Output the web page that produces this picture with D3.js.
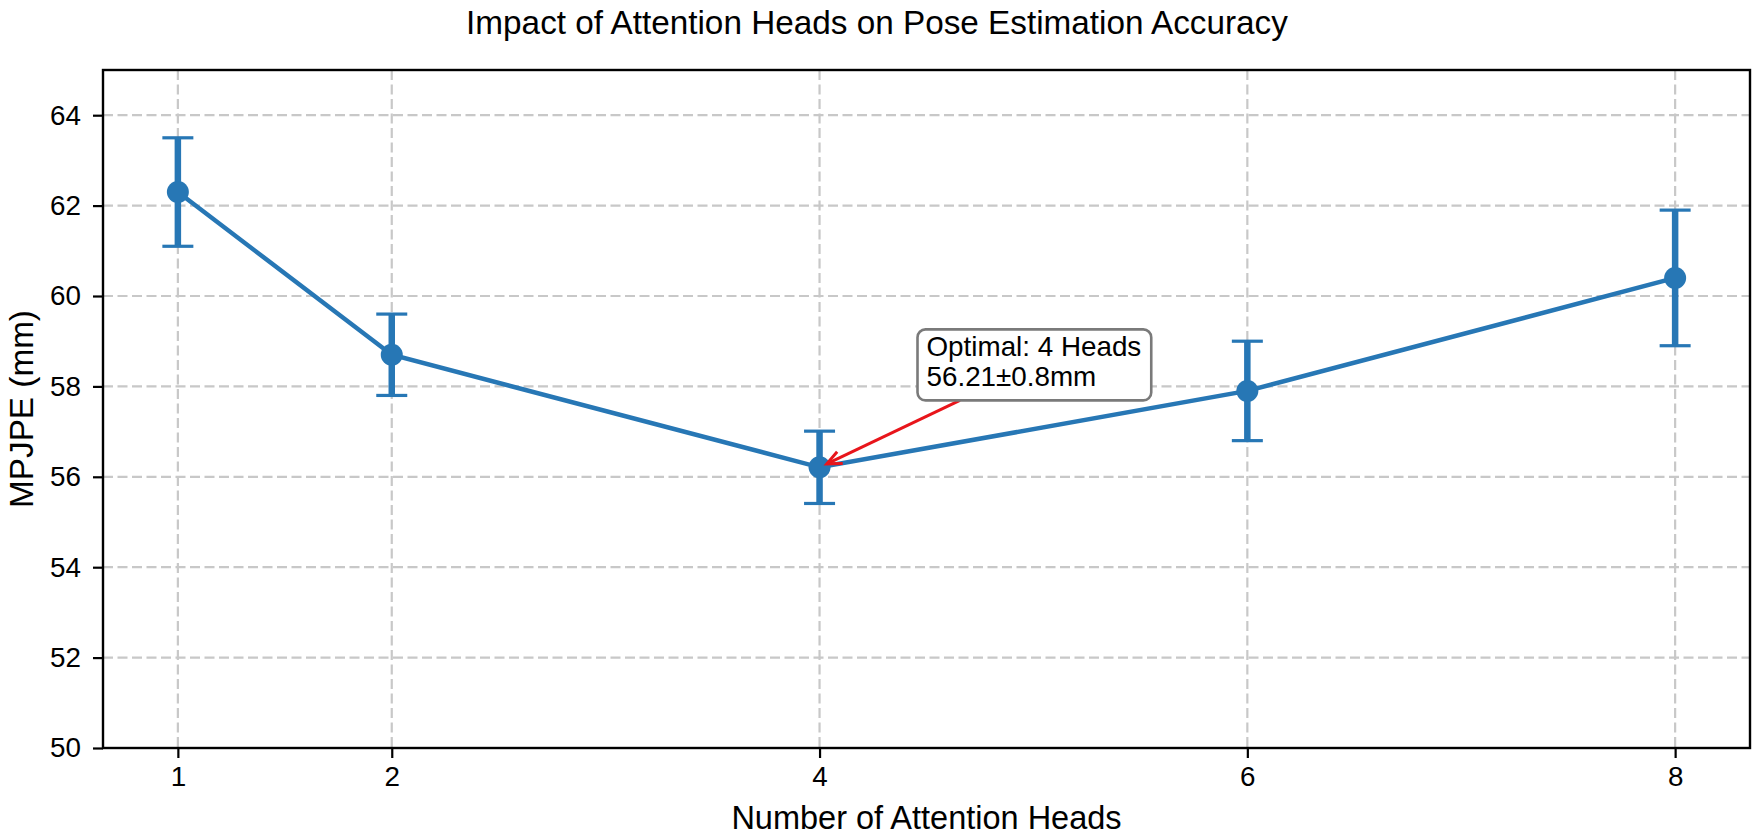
<!DOCTYPE html>
<html>
<head>
<meta charset="utf-8">
<script src="https://cdn.jsdelivr.net/npm/d3@7"></script>
<style>
  body { margin: 0; background: #fff; }
  text { font-family: "Liberation Sans", Arial, sans-serif; fill: #000; }
</style>
</head>
<body>
<svg width="1755" height="835"></svg>
<script>
var heads = [1, 2, 4, 6, 8];
var mpjpe = [62.3, 58.7, 56.21, 57.9, 60.4];
var stdDev = [1.2, 0.9, 0.8, 1.1, 1.5];
var yTicks = [50, 52, 54, 56, 58, 60, 62, 64];
var annotLines = ["Optimal: 4 Heads", "56.21\u00b10.8mm"];
var annotAt = [4.5, 58.0];

var data = heads.map(function(h, i) { return {x: h, y: mpjpe[i], e: stdDev[i]}; });

var svg = d3.select("svg"),
    margin = {top: 70, right: 5, bottom: 87, left: 103},
    width = +svg.attr("width") - margin.left - margin.right,
    height = +svg.attr("height") - margin.top - margin.bottom,
    g = svg.append("g").attr("transform", "translate(" + margin.left + "," + margin.top + ")");

var blue = "#2777b5";

var x = d3.scaleLinear().domain([0.65, 8.35]).range([0, width]);
var y = d3.scaleLinear().domain([50, 65]).range([height, 0]);

// grid
g.append("g").selectAll("line").data(heads).enter().append("line")
    .attr("x1", function(d) { return x(d); }).attr("x2", function(d) { return x(d); })
    .attr("y1", 0).attr("y2", height);
g.append("g").selectAll("line").data(yTicks).enter().append("line")
    .attr("x1", 0).attr("x2", width)
    .attr("y1", function(d) { return y(d); }).attr("y2", function(d) { return y(d); });
g.selectAll("g line")
    .attr("stroke", "#c8c8c8")
    .attr("stroke-width", 2.2)
    .attr("stroke-dasharray", "10,4.5");

// axes
var xAxis = g.append("g")
    .attr("transform", "translate(0," + height + ")")
    .call(d3.axisBottom(x).tickValues(heads).tickSize(10).tickPadding(8).tickFormat(d3.format("d")));
var yAxis = g.append("g")
    .call(d3.axisLeft(y).tickValues(yTicks).tickSize(10).tickPadding(12).tickFormat(d3.format("d")));
[xAxis, yAxis].forEach(function(a) {
  a.select(".domain").remove();
  a.selectAll(".tick line").attr("stroke", "#000").attr("stroke-width", 2.2);
  a.selectAll(".tick text").attr("font-size", "27.8px").attr("font-family", "Liberation Sans, Arial, sans-serif");
});

g.append("rect")
    .attr("width", width).attr("height", height)
    .attr("fill", "none").attr("stroke", "#000").attr("stroke-width", 2.4);

// line
var line = d3.line()
    .x(function(d) { return x(d.x); })
    .y(function(d) { return y(d.y); });

g.append("path")
    .datum(data)
    .attr("fill", "none")
    .attr("stroke", blue)
    .attr("stroke-width", 4.5)
    .attr("d", line);

// error bars
var eb = g.append("g").selectAll("g").data(data).enter().append("g");
eb.append("line")
    .attr("x1", function(d) { return x(d.x); }).attr("x2", function(d) { return x(d.x); })
    .attr("y1", function(d) { return y(d.y - d.e); }).attr("y2", function(d) { return y(d.y + d.e); })
    .attr("stroke", blue).attr("stroke-width", 6.5);
[-1, 1].forEach(function(s) {
  eb.append("line")
      .attr("x1", function(d) { return x(d.x) - 15.5; }).attr("x2", function(d) { return x(d.x) + 15.5; })
      .attr("y1", function(d) { return y(d.y + s * d.e); }).attr("y2", function(d) { return y(d.y + s * d.e); })
      .attr("stroke", blue).attr("stroke-width", 3.2);
});

g.append("g").selectAll("circle").data(data).enter().append("circle")
    .attr("cx", function(d) { return x(d.x); })
    .attr("cy", function(d) { return y(d.y); })
    .attr("r", 11)
    .attr("fill", blue);

// annotation
var best = data[2];
var ag = g.append("g");
var box = ag.append("rect");
var at = ag.append("text")
    .attr("x", x(annotAt[0]))
    .attr("y", y(annotAt[1]))
    .attr("font-size", "27.8px");
annotLines.forEach(function(t, i) {
  at.append("tspan")
      .attr("x", x(annotAt[0]))
      .attr("dy", i === 0 ? -30 : 30)
      .text(t);
});
var bb = at.node().getBBox();
var bx0 = bb.x - 9, by0 = bb.y - 2, bx1 = bb.x + bb.width + 10, by1 = bb.y + bb.height + 8;
box.attr("x", bx0).attr("y", by0)
    .attr("width", bx1 - bx0).attr("height", by1 - by0)
    .attr("rx", 8).attr("ry", 8)
    .attr("fill", "#fff").attr("stroke", "#7a7a7a").attr("stroke-width", 2.6);

// arrow from box edge to the optimal point
var tx = x(best.x), ty = y(best.y);
var cx = (bx0 + bx1) / 2, cy = (by0 + by1) / 2;
var dx = cx - tx, dy = cy - ty;
var t = Math.max((by1 - ty) / dy, (bx0 - tx) / dx);
var sx = tx + dx * t, sy = ty + dy * t;
var len = Math.sqrt(dx * dx + dy * dy), ux = dx / len, uy = dy / len;
var ex = tx + ux * 8, ey = ty + uy * 8;
ag.insert("line", "rect")
    .attr("x1", sx).attr("y1", sy).attr("x2", ex).attr("y2", ey)
    .attr("stroke", "#e8151b").attr("stroke-width", 3);
var hl = 16, ha = 0.42;
var ang = Math.atan2(uy, ux);
ag.append("path")
    .attr("d", "M" + (ex + hl * Math.cos(ang + ha)) + "," + (ey + hl * Math.sin(ang + ha)) +
               "L" + ex + "," + ey +
               "L" + (ex + hl * Math.cos(ang - ha)) + "," + (ey + hl * Math.sin(ang - ha)))
    .attr("fill", "none").attr("stroke", "#e8151b").attr("stroke-width", 3);

// labels
svg.append("text")
    .attr("x", 877).attr("y", 34)
    .attr("text-anchor", "middle").attr("font-size", "33.3px")
    .text("Impact of Attention Heads on Pose Estimation Accuracy");
svg.append("text")
    .attr("x", margin.left + width / 2).attr("y", 829)
    .attr("text-anchor", "middle").attr("font-size", "32.5px")
    .text("Number of Attention Heads");
svg.append("text")
    .attr("transform", "translate(33," + (margin.top + height / 2) + ") rotate(-90)")
    .attr("text-anchor", "middle").attr("font-size", "33.3px")
    .text("MPJPE (mm)");
</script>
</body>
</html>
